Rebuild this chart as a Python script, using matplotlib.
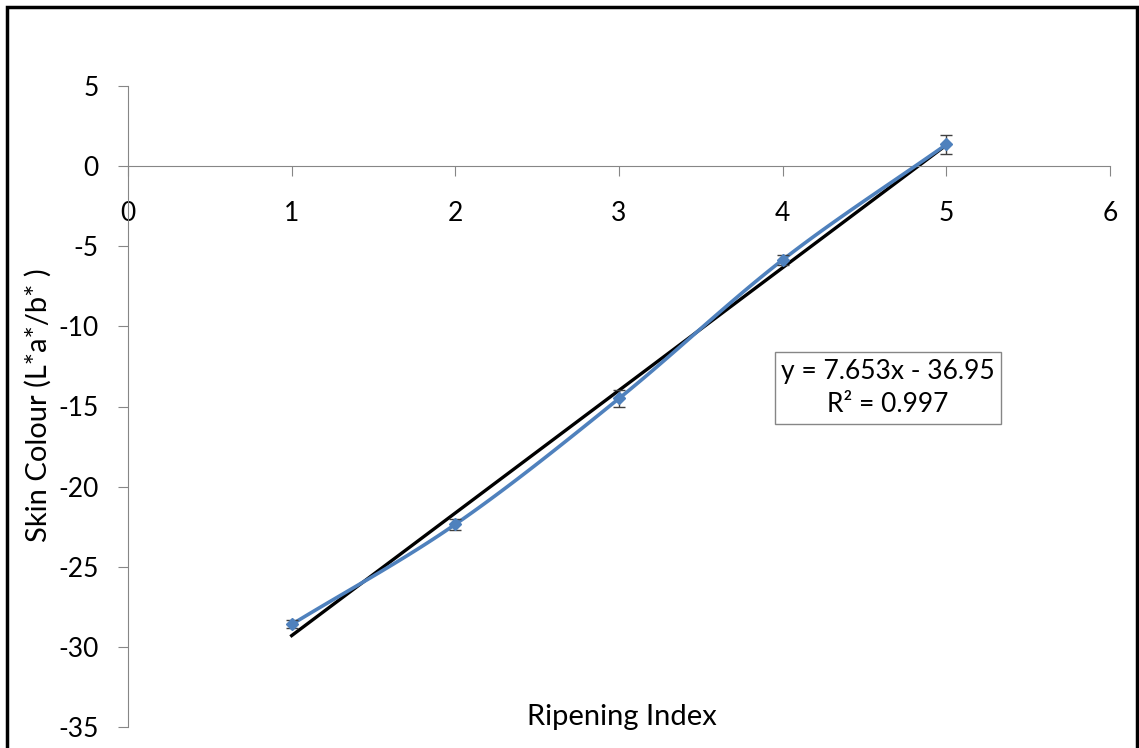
import numpy as np
import matplotlib
matplotlib.use("Agg")
import matplotlib.pyplot as plt
from matplotlib.patches import Rectangle

ripening_index = [1, 2, 3, 4, 5]
skin_colour = [-28.6, -22.35, -14.5, -5.85, 1.35]
skin_colour_err = [0.25, 0.35, 0.55, 0.3, 0.6]
slope = 7.653
intercept = -36.95
eq_text = "y = 7.653x - 36.95\nR² = 0.997"

plt.rcParams["font.family"] = ["Lato", "DejaVu Sans"]
plt.rcParams["axes.unicode_minus"] = False

fig = plt.figure(figsize=(11.39, 7.48), dpi=100)
ax = fig.add_axes([128 / 1139, 21 / 748, 982 / 1139, 641 / 748])

# smoothed line through the points (Catmull-Rom like Excel's smooth line)
x = np.array(ripening_index, dtype=float)
y = np.array(skin_colour)
xs, ys = [], []
px = np.concatenate([[2 * x[0] - x[1]], x, [2 * x[-1] - x[-2]]])
py = np.concatenate([[2 * y[0] - y[1]], y, [2 * y[-1] - y[-2]]])
t = np.linspace(0, 1, 30)
for i in range(1, len(px) - 2):
    p0, p1, p2, p3 = [np.array([px[j], py[j]]) for j in range(i - 1, i + 3)]
    seg = 0.5 * ((2 * p1)[:, None] + (-p0 + p2)[:, None] * t
                 + (2 * p0 - 5 * p1 + 4 * p2 - p3)[:, None] * t ** 2
                 + (-p0 + 3 * p1 - 3 * p2 + p3)[:, None] * t ** 3)
    xs.extend(seg[0])
    ys.extend(seg[1])

ax.plot(xs, ys, color="#4F81BD", lw=2.6, zorder=3)
ax.errorbar(ripening_index, skin_colour, yerr=skin_colour_err, fmt="D",
            color="#4F81BD", ms=6.5, ecolor="#404040", elinewidth=1,
            capsize=4, capthick=1, zorder=4)

tx = np.array([ripening_index[0], ripening_index[-1]])
ax.plot(tx, slope * tx + intercept, color="black", lw=2.4, zorder=2)

ax.set_xlim(0, 6)
ax.set_ylim(-35, 5)
ax.set_xticks(range(0, 7))
ax.set_yticks(range(-35, 6, 5))

for s in ["top", "right"]:
    ax.spines[s].set_visible(False)
ax.spines["bottom"].set_position(("data", 0))
ax.spines["left"].set_position(("data", 0))
ax.spines["bottom"].set_color("#868686")
ax.spines["left"].set_color("#868686")
ax.tick_params(axis="x", direction="out", length=7, color="#868686",
               labelsize=19, pad=18)
ax.tick_params(axis="y", direction="out", length=7, color="#868686",
               labelsize=19, pad=14)

fig.text(38 / 1139, 1 - 405 / 748, "Skin Colour (L*a*/b* )", rotation=90,
         ha="center", va="center", fontsize=21)
fig.text(622 / 1139, 1 - 717 / 748, "Ripening Index", ha="center",
         va="center", fontsize=21)

ax.text(888 / 1139, 1 - 388 / 748, eq_text, transform=fig.transFigure,
        ha="center", va="center", fontsize=19, linespacing=1.4,
        bbox=dict(boxstyle="square,pad=0.25", fc="white", ec="#868686", lw=1))

fig.patches.append(Rectangle((7 / 1139, -0.05), 1130 / 1139, 1.05 - 7 / 748,
                             transform=fig.transFigure, fill=False,
                             ec="black", lw=2.5))

fig.savefig("out.png", dpi=100)
